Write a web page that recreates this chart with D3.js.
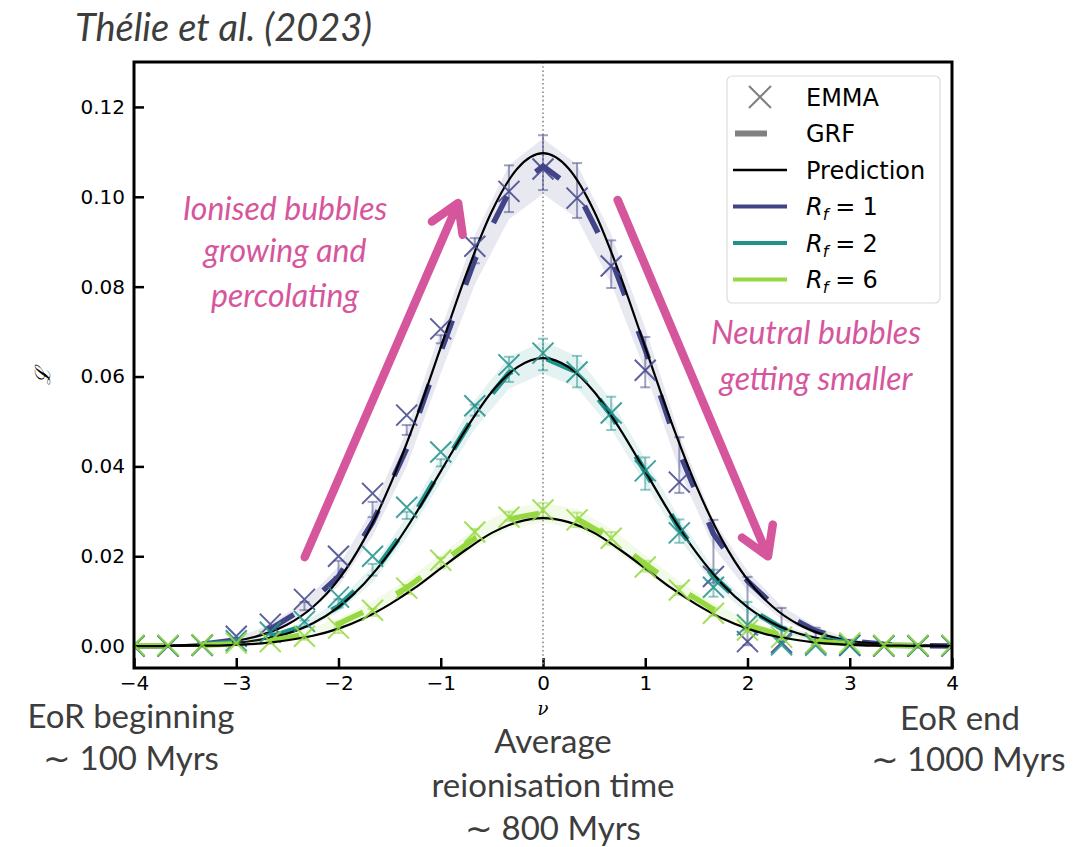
<!DOCTYPE html>
<html>
<head>
<meta charset="utf-8">
<script src="https://cdn.jsdelivr.net/npm/d3@7"></script>
<style>
  body { margin: 0; background: #fff; }
  svg { display: block; }
</style>
</head>
<body>
<svg id="chart" width="1076" height="847"></svg>
<script>
// ---- data -------------------------------------------------------------
// Threshold grid of the EMMA / GRF measurements (steps of 1/3)
const nuGrid = [-4, -3.667, -3.333, -3, -2.667, -2.333, -2, -1.667, -1.333, -1, -0.667, -0.333,
                0, 0.333, 0.667, 1, 1.333, 1.667, 2, 2.333, 2.667, 3, 3.333, 3.667, 4];
// Fine grid of the analytical prediction
const predNu = [-4, -3.75, -3.5, -3.25, -3, -2.75, -2.5, -2.25, -2, -1.75, -1.5, -1.25, -1, -0.75, -0.5, -0.25,
                0, 0.25, 0.5, 0.75, 1, 1.25, 1.5, 1.75, 2, 2.25, 2.5, 2.75, 3, 3.25, 3.5, 3.75, 4];

// R_f = 1
const emmaR1 = [0.0000, 0.0000, 0.0002, 0.0022, 0.0049, 0.0104, 0.0200, 0.0340, 0.0514, 0.0706, 0.0890, 0.1012,
                0.1062, 0.0997, 0.0846, 0.0614, 0.0365, 0.0155, 0.0010, 0.0008, 0.0006, 0.0002, 0.0000, 0.0000, 0.0000];
const grfR1  = [0.0000, 0.0001, 0.0004, 0.0014, 0.0038, 0.0085, 0.0155, 0.0275, 0.0440, 0.0655, 0.0860, 0.1010,
                0.1068, 0.1012, 0.0862, 0.0660, 0.0432, 0.0250, 0.0145, 0.0074, 0.0034, 0.0011, 0.0004, 0.0001, 0.0000];
const bandR1 = [0.0001, 0.0001, 0.0002, 0.0005, 0.0010, 0.0015, 0.0022, 0.0030, 0.0040, 0.0048, 0.0055, 0.0060,
                0.0062, 0.0060, 0.0055, 0.0048, 0.0040, 0.0030, 0.0022, 0.0015, 0.0010, 0.0005, 0.0002, 0.0001, 0.0001];
const errMidR1  = [0.0000, 0.0001, 0.0004, 0.0013, 0.0036, 0.0089, 0.0172, 0.0304, 0.0481, 0.0683, 0.0880, 0.1018,
                   0.1076, 0.1014, 0.0850, 0.0632, 0.0403, 0.0211, 0.0078, 0.0053, 0.0027, 0.0008, 0.0002, 0.0001, 0.0000];
const errHalfR1 = [0.0001, 0.0001, 0.0003, 0.0005, 0.0007, 0.0009, 0.0018, 0.0017, 0.0011, 0.0009, 0.0028, 0.0052,
                   0.0061, 0.0061, 0.0053, 0.0056, 0.0062, 0.0070, 0.0076, 0.0032, 0.0014, 0.0006, 0.0002, 0.0001, 0.0001];
const predR1 = [0.0000, 0.0001, 0.0002, 0.0006, 0.0012, 0.0025, 0.0048, 0.0087, 0.0148, 0.0237, 0.0356, 0.0502,
                0.0665, 0.0828, 0.0968, 0.1063, 0.1097, 0.1063, 0.0968, 0.0828, 0.0665, 0.0502, 0.0356, 0.0237,
                0.0148, 0.0087, 0.0048, 0.0025, 0.0012, 0.0006, 0.0002, 0.0001, 0.0000];

// R_f = 2
const emmaR2 = [0.0001, 0.0001, 0.0002, 0.0012, 0.0031, 0.0055, 0.0109, 0.0200, 0.0309, 0.0432, 0.0535, 0.0626,
                0.0652, 0.0610, 0.0519, 0.0390, 0.0252, 0.0131, 0.0047, 0.0003, 0.0002, 0.0002, 0.0001, 0.0001, 0.0001];
const grfR2  = [0.0001, 0.0001, 0.0003, 0.0009, 0.0020, 0.0045, 0.0088, 0.0160, 0.0265, 0.0392, 0.0515, 0.0608,
                0.0643, 0.0610, 0.0515, 0.0388, 0.0262, 0.0155, 0.0085, 0.0040, 0.0017, 0.0007, 0.0002, 0.0001, 0.0001];
const bandR2 = [0.0001, 0.0001, 0.0001, 0.0003, 0.0006, 0.0009, 0.0013, 0.0018, 0.0023, 0.0028, 0.0032, 0.0035,
                0.0036, 0.0035, 0.0032, 0.0028, 0.0023, 0.0018, 0.0013, 0.0009, 0.0006, 0.0003, 0.0001, 0.0001, 0.0001];
const errMidR2  = [0.0001, 0.0001, 0.0003, 0.0008, 0.0022, 0.0050, 0.0095, 0.0170, 0.0291, 0.0408, 0.0525, 0.0616,
                   0.0649, 0.0611, 0.0518, 0.0384, 0.0256, 0.0140, 0.0067, 0.0025, 0.0008, 0.0003, 0.0001, 0.0001, 0.0001];
const errHalfR2 = [0.0001, 0.0001, 0.0002, 0.0003, 0.0005, 0.0007, 0.0009, 0.0013, 0.0008, 0.0008, 0.0012, 0.0028,
                   0.0035, 0.0035, 0.0037, 0.0036, 0.0026, 0.0030, 0.0031, 0.0015, 0.0006, 0.0002, 0.0001, 0.0001, 0.0001];
const predR2 = [0.0000, 0.0001, 0.0001, 0.0003, 0.0007, 0.0015, 0.0028, 0.0051, 0.0087, 0.0139, 0.0208, 0.0293,
                0.0389, 0.0484, 0.0566, 0.0621, 0.0641, 0.0621, 0.0566, 0.0484, 0.0389, 0.0293, 0.0208, 0.0139,
                0.0087, 0.0051, 0.0028, 0.0015, 0.0007, 0.0003, 0.0001, 0.0001, 0.0000];

// R_f = 6
const emmaR6 = [0.0002, 0.0002, 0.0003, 0.0007, 0.0010, 0.0022, 0.0040, 0.0080, 0.0129, 0.0191, 0.0254, 0.0287,
                0.0303, 0.0281, 0.0240, 0.0176, 0.0125, 0.0073, 0.0036, 0.0020, 0.0007, 0.0007, 0.0002, 0.0002, 0.0002];
const grfR6  = [0.0001, 0.0001, 0.0002, 0.0005, 0.0012, 0.0026, 0.0050, 0.0085, 0.0130, 0.0185, 0.0240, 0.0283,
                0.0297, 0.0283, 0.0240, 0.0183, 0.0128, 0.0082, 0.0047, 0.0024, 0.0011, 0.0005, 0.0002, 0.0001, 0.0001];
const bandR6 = [0.0001, 0.0001, 0.0002, 0.0004, 0.0006, 0.0009, 0.0012, 0.0015, 0.0017, 0.0019, 0.0021, 0.0022,
                0.0022, 0.0022, 0.0021, 0.0019, 0.0017, 0.0015, 0.0012, 0.0009, 0.0006, 0.0004, 0.0002, 0.0001, 0.0001];
const errMidR6  = [0.0001, 0.0001, 0.0002, 0.0004, 0.0008, 0.0018, 0.0035, 0.0075, 0.0126, 0.0185, 0.0248, 0.0289,
                   0.0303, 0.0281, 0.0240, 0.0178, 0.0124, 0.0075, 0.0038, 0.0018, 0.0008, 0.0004, 0.0002, 0.0001, 0.0001];
const errHalfR6 = [0.0001, 0.0001, 0.0001, 0.0002, 0.0003, 0.0004, 0.0006, 0.0008, 0.0010, 0.0012, 0.0013, 0.0010,
                   0.0016, 0.0016, 0.0014, 0.0012, 0.0010, 0.0008, 0.0006, 0.0004, 0.0003, 0.0002, 0.0001, 0.0001, 0.0001];
const predR6 = [0.0000, 0.0000, 0.0001, 0.0001, 0.0003, 0.0006, 0.0013, 0.0023, 0.0039, 0.0062, 0.0093, 0.0130,
                0.0173, 0.0215, 0.0252, 0.0276, 0.0285, 0.0276, 0.0252, 0.0215, 0.0173, 0.0130, 0.0093, 0.0062,
                0.0039, 0.0023, 0.0013, 0.0006, 0.0003, 0.0001, 0.0001, 0.0000, 0.0000];

const filterRadii = ["1", "2", "6"];
const seriesColors = ["#414487", "#21918c", "#95d840"];
const xTicks = [-4, -3, -2, -1, 0, 1, 2, 3, 4];
const yTicks = [0.00, 0.02, 0.04, 0.06, 0.08, 0.10, 0.12];

const series = [
  { rf: filterRadii[0], color: seriesColors[0], emma: emmaR1, grf: grfR1, band: bandR1, errMid: errMidR1, errHalf: errHalfR1, pred: predR1 },
  { rf: filterRadii[1], color: seriesColors[1], emma: emmaR2, grf: grfR2, band: bandR2, errMid: errMidR2, errHalf: errHalfR2, pred: predR2 },
  { rf: filterRadii[2], color: seriesColors[2], emma: emmaR6, grf: grfR6, band: bandR6, errMid: errMidR6, errHalf: errHalfR6, pred: predR6 }
];

// ---- layout -----------------------------------------------------------
const plot = { left: 134, right: 952, top: 62, bottom: 668 };
const svg = d3.select("#chart");

const x = d3.scaleLinear().domain([-4, 4]).range([plot.left, plot.right]);
const y = d3.scaleLinear().domain([-0.00487, 0.1300]).range([plot.bottom, plot.top]);

const pink = "#d6569d";
const gray = "#3d3d3d";

svg.append("defs").append("clipPath").attr("id", "plotClip")
  .append("rect")
  .attr("x", plot.left).attr("y", plot.top)
  .attr("width", plot.right - plot.left).attr("height", plot.bottom - plot.top);

// ---- axes -------------------------------------------------------------
const xAxis = svg.append("g")
  .attr("transform", `translate(0,${plot.bottom})`)
  .call(d3.axisBottom(x).tickValues(xTicks).tickSize(-10).tickPadding(8).tickFormat(d3.format("d")));
const yAxis = svg.append("g")
  .attr("transform", `translate(${plot.left},0)`)
  .call(d3.axisLeft(y).tickValues(yTicks).tickSize(-10).tickPadding(9).tickFormat(d3.format(".2f")));
[xAxis, yAxis].forEach(a => {
  a.attr("font-size", 20).attr("font-family", "DejaVu Sans");
  a.select(".domain").remove();
  a.selectAll(".tick line").attr("stroke", "#000").attr("stroke-width", 2.5);
  a.selectAll(".tick text").attr("fill", "#000")
    .attr("font-size", 20).attr("font-family", "DejaVu Sans");
});

// zero-threshold guide
svg.append("line")
  .attr("x1", x(0)).attr("x2", x(0)).attr("y1", plot.top).attr("y2", plot.bottom)
  .attr("stroke", "#8a8a8a").attr("stroke-width", 1.6).attr("stroke-dasharray", "1.6,2.6");

// ---- data layers ------------------------------------------------------
const layer = svg.append("g").attr("clip-path", "url(#plotClip)");

const bandArea = d3.area()
  .x((d, i) => x(nuGrid[i]))
  .y0((d, i) => y(d.v - d.b))
  .y1((d, i) => y(d.v + d.b));
const grfLine = d3.line().x((d, i) => x(nuGrid[i])).y(d => y(d));
const predLine = d3.line().x((d, i) => x(predNu[i])).y(d => y(d)).curve(d3.curveMonotoneX);

const crossPath = r => `M${-r},${-r}L${r},${r}M${-r},${r}L${r},${-r}`;

series.forEach(s => {
  const g = layer.append("g");
  // GRF spread
  g.append("path")
    .datum(s.grf.map((v, i) => ({ v, b: s.band[i] })))
    .attr("d", bandArea)
    .attr("fill", s.color).attr("fill-opacity", 0.12);
  // GRF mean, dashed
  g.append("path")
    .datum(s.grf)
    .attr("d", grfLine)
    .attr("fill", "none").attr("stroke", s.color)
    .attr("stroke-width", 5.5).attr("stroke-dasharray", "30,38");
  // error bars
  const eb = g.append("g").attr("stroke", s.color).attr("stroke-opacity", 0.5).attr("stroke-width", 2);
  s.errMid.forEach((m, i) => {
    const cx = x(nuGrid[i]);
    const y0 = y(m - s.errHalf[i]), y1 = y(m + s.errHalf[i]);
    eb.append("line").attr("x1", cx).attr("x2", cx).attr("y1", y0).attr("y2", y1);
    eb.append("line").attr("x1", cx - 5).attr("x2", cx + 5).attr("y1", y0).attr("y2", y0);
    eb.append("line").attr("x1", cx - 5).attr("x2", cx + 5).attr("y1", y1).attr("y2", y1);
  });
  // prediction
  g.append("path")
    .datum(s.pred)
    .attr("d", predLine)
    .attr("fill", "none").attr("stroke", "#000").attr("stroke-width", 2.2);
  // EMMA measurements
  g.selectAll("path.emma")
    .data(s.emma)
    .join("path")
    .attr("class", "emma")
    .attr("transform", (d, i) => `translate(${x(nuGrid[i])},${y(d)})`)
    .attr("d", crossPath(10.5))
    .attr("fill", "none").attr("stroke", s.color)
    .attr("stroke-width", 2).attr("stroke-opacity", 0.85);
});

// frame
svg.append("rect")
  .attr("x", plot.left).attr("y", plot.top)
  .attr("width", plot.right - plot.left).attr("height", plot.bottom - plot.top)
  .attr("fill", "none").attr("stroke", "#000").attr("stroke-width", 3);

// axis labels
svg.append("text")
  .attr("x", x(0)).attr("y", 715)
  .attr("text-anchor", "middle")
  .style("font-family", "DejaVu Serif").style("font-style", "italic").style("font-size", "18px")
  .text("ν");
svg.append("text")
  .attr("transform", `translate(50,${y(0.06)}) rotate(-90)`)
  .attr("text-anchor", "middle")
  .style("font-family", "DejaVu Serif").style("font-style", "italic").style("font-size", "21px")
  .text("ℒ");

// ---- legend -----------------------------------------------------------
const legend = svg.append("g");
legend.append("rect")
  .attr("x", 727).attr("y", 76).attr("width", 213).attr("height", 227)
  .attr("rx", 5).attr("fill", "#fff").attr("fill-opacity", 0.85)
  .attr("stroke", "#dcdcdc").attr("stroke-width", 1.2);

const rowY = i => 97 + i * 36.5;
const lgFont = sel => sel.style("font-family", "DejaVu Sans").style("font-size", "24px").attr("fill", "#000");

legend.append("path")
  .attr("transform", `translate(760,${rowY(0)})`)
  .attr("d", crossPath(11))
  .attr("stroke", "#808080").attr("stroke-width", 2).attr("fill", "none");
legend.append("line")
  .attr("x1", 735).attr("x2", 767).attr("y1", rowY(1)).attr("y2", rowY(1))
  .attr("stroke", "#808080").attr("stroke-width", 6);
legend.append("line")
  .attr("x1", 733).attr("x2", 787).attr("y1", rowY(2)).attr("y2", rowY(2))
  .attr("stroke", "#000").attr("stroke-width", 2.5);

const lgLabels = ["EMMA", "GRF", "Prediction"];
lgLabels.forEach((t, i) => {
  legend.append("text").attr("x", 806).attr("y", rowY(i)).attr("dy", "0.36em").call(lgFont).text(t);
});

series.forEach((s, k) => {
  const ry = rowY(3 + k);
  legend.append("line")
    .attr("x1", 733).attr("x2", 787).attr("y1", ry).attr("y2", ry)
    .attr("stroke", s.color).attr("stroke-width", 4);
  const t = legend.append("text").attr("x", 806).attr("y", ry).attr("dy", "0.36em").call(lgFont);
  t.append("tspan").style("font-style", "italic").text("R");
  t.append("tspan").style("font-style", "italic").style("font-size", "16px").attr("dy", "5").text("f");
  t.append("tspan").attr("dy", "-5").attr("dx", "7").text("=");
  t.append("tspan").attr("dx", "7").text(s.rf);
});

// ---- annotations ------------------------------------------------------
const annFont = sel => sel.style("font-family", "Lato").style("font-style", "italic")
  .style("font-size", "32px").attr("fill", pink).attr("text-anchor", "middle");

[["Ionised bubbles", 220], ["growing and", 262], ["percolating", 307]].forEach(([t, yy]) => {
  svg.append("text").attr("x", 285).attr("y", yy).call(annFont).text(t);
});
[["Neutral bubbles", 344], ["getting smaller", 390]].forEach(([t, yy]) => {
  svg.append("text").attr("x", 816).attr("y", yy).call(annFont).text(t);
});

// trend arrows, anchored in data space
function arrow(from, to) {
  const x0 = x(from[0]), y0 = y(from[1]), x1 = x(to[0]), y1 = y(to[1]);
  const ang = Math.atan2(y1 - y0, x1 - x0);
  const len = 32, spread = 0.55;
  const a1 = [x1 - len * Math.cos(ang - spread), y1 - len * Math.sin(ang - spread)];
  const a2 = [x1 - len * Math.cos(ang + spread), y1 - len * Math.sin(ang + spread)];
  svg.append("path")
    .attr("d", `M${x0},${y0}L${x1},${y1}M${a1[0]},${a1[1]}L${x1},${y1}L${a2[0]},${a2[1]}`)
    .attr("fill", "none").attr("stroke", pink).attr("stroke-width", 8.5)
    .attr("stroke-linecap", "round").attr("stroke-linejoin", "round");
}
arrow([-2.33, 0.0198], [-0.83, 0.0986]);
arrow([0.73, 0.0993], [2.20, 0.0200]);

// ---- title and epoch notes -------------------------------------------
svg.append("text")
  .attr("x", 75).attr("y", 41)
  .style("font-family", "Lato").style("font-style", "italic").style("font-size", "38px")
  .attr("fill", gray).text("Thélie et al. (2023)");

const noteFont = sel => sel.style("font-family", "Lato").style("font-size", "33px")
  .attr("fill", gray).attr("text-anchor", "middle");
[["EoR beginning", 131, 728], ["∼ 100 Myrs", 131, 770],
 ["Average", 553, 753], ["reionisation time", 553, 797], ["∼ 800 Myrs", 553, 840],
 ["EoR end", 960, 730], ["∼ 1000 Myrs", 968, 771]].forEach(([t, xx, yy]) => {
  svg.append("text").attr("x", xx).attr("y", yy).call(noteFont).text(t);
});
</script>
</body>
</html>
